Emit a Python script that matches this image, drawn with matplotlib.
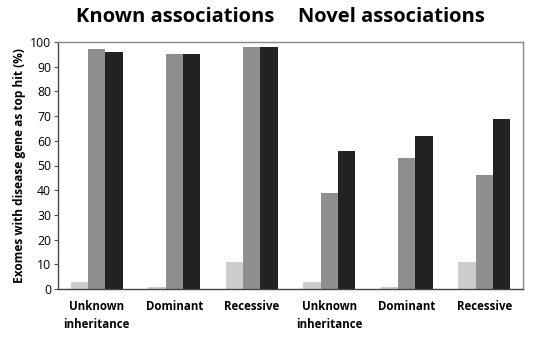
import matplotlib
matplotlib.use("Agg")
import matplotlib.pyplot as plt
import numpy as np

categories = ["Unknown\ninheritance", "Dominant", "Recessive",
              "Unknown\ninheritance", "Dominant", "Recessive"]
series_light = [3, 1, 11, 3, 1, 11]
series_gray = [97, 95, 98, 39, 53, 46]
series_black = [96, 95, 98, 56, 62, 69]
panel_titles = ["Known associations", "Novel associations"]
y_label = "Exomes with disease gene as top hit (%)"
y_ticks = list(range(0, 101, 10))

plt.rcParams['font.family'] = ['Open Sans', 'DejaVu Sans']

fig = plt.figure(figsize=(5.4, 3.39), dpi=100)
ax = fig.add_axes([58/540, 1 - 289/339, (523-58)/540, (289-42)/339])

x = np.arange(len(categories))
w = 0.223
ax.bar(x - w, series_light, w, color="#cdcdcd", linewidth=0)
ax.bar(x, series_gray, w, color="#8f8f8f", linewidth=0)
ax.bar(x + w, series_black, w, color="#222222", linewidth=0)

ax.set_xlim(-0.5, len(categories) - 0.5)
ax.set_ylim(0, 100)
ax.set_yticks(y_ticks)
ax.tick_params(axis='y', labelsize=8.8, length=3, width=0.8, color="#555555", pad=2)
ax.set_xticks(x)
ax.set_xticklabels(categories, fontsize=8.3, fontweight='bold', linespacing=1.45)
ax.tick_params(axis='x', length=0, pad=8)
ax.set_ylabel(y_label, fontsize=8.6, fontweight='bold', labelpad=3)

for side in ['top', 'right']:
    ax.spines[side].set_color("#888888")
    ax.spines[side].set_linewidth(1.0)
for side in ['left', 'bottom']:
    ax.spines[side].set_color("#444444")
    ax.spines[side].set_linewidth(1.0)

fig.text(175/540, 1 - 17/339, panel_titles[0], ha='center', va='center',
         fontsize=14.5, fontweight='bold')
fig.text(391/540, 1 - 17/339, panel_titles[1], ha='center', va='center',
         fontsize=14.5, fontweight='bold')

fig.savefig("out.png", dpi=100)
